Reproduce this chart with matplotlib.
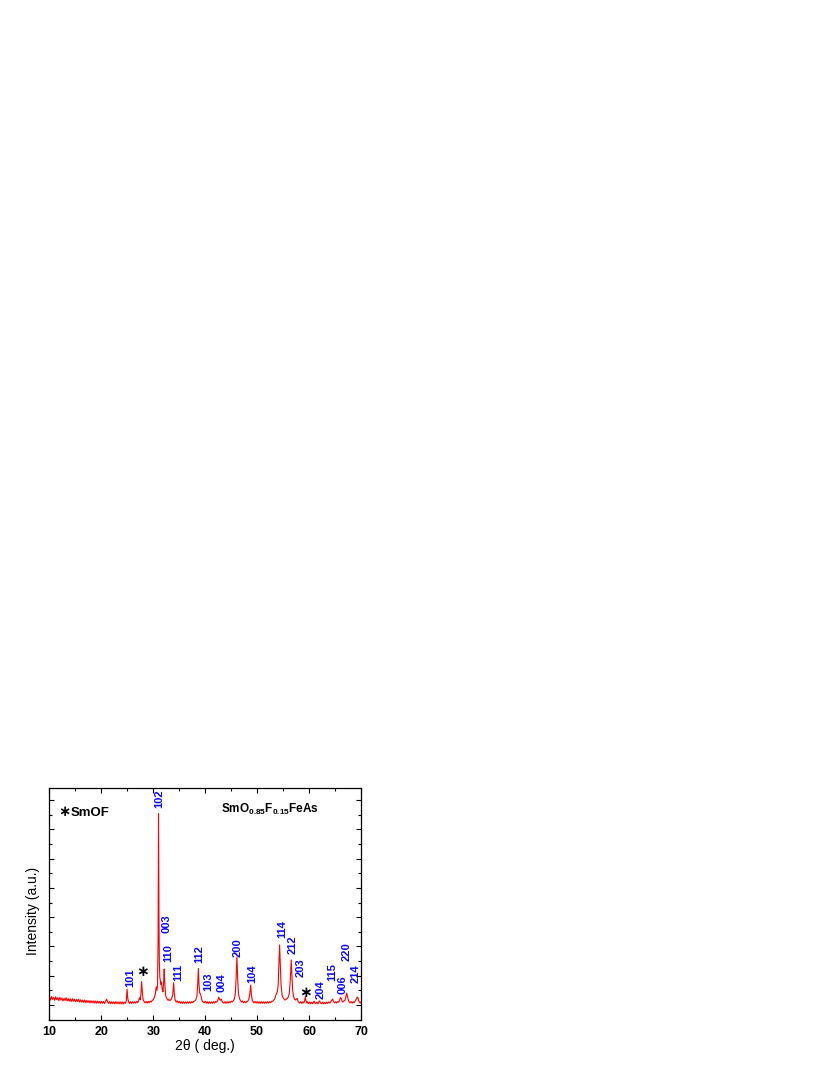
import matplotlib
matplotlib.use("Agg")
import matplotlib.pyplot as plt
from matplotlib.ticker import MultipleLocator, NullFormatter

plt.rcParams['font.family'] = ['Liberation Sans', 'DejaVu Sans']
plt.rcParams['mathtext.fontset'] = 'custom'
plt.rcParams['mathtext.rm'] = 'Liberation Sans'
plt.rcParams['mathtext.bf'] = 'Liberation Sans:bold'

# ---- data (2theta in degrees, intensity in arbitrary units) ----
two_theta = [
    10.0, 10.2, 10.4, 10.6, 10.8, 11.0, 11.2, 11.4, 11.6, 11.8,
    12.0, 12.2, 12.4, 12.6, 12.8, 13.0, 13.2, 13.4, 13.6, 13.8,
    14.0, 14.2, 14.4, 14.6, 14.8, 15.0, 15.2, 15.4, 15.6, 15.8,
    16.0, 16.2, 16.4, 16.6, 16.8, 17.0, 17.2, 17.4, 17.6, 17.8,
    18.0, 18.2, 18.4, 18.6, 18.8, 19.0, 19.2, 19.4, 19.6, 19.8,
    20.0, 20.2, 20.4, 20.6, 20.8, 21.0, 21.2, 21.4, 21.6, 21.8,
    22.0, 22.2, 22.4, 22.6, 22.8, 23.0, 23.2, 23.4, 23.6, 23.8,
    24.0, 24.2, 24.4, 24.6, 24.8, 24.95, 25.1, 25.25, 25.4, 25.6,
    25.8, 26.0, 26.2, 26.4, 26.6, 26.8, 27.0, 27.2, 27.35, 27.5,
    27.62, 27.75, 27.9, 28.05, 28.2, 28.4, 28.6, 28.8, 29.0, 29.2,
    29.4, 29.6, 29.8, 30.0, 30.2, 30.4, 30.55, 30.7, 30.82, 30.92,
    31.0, 31.08, 31.16, 31.26, 31.38, 31.48, 31.58, 31.7, 31.85, 31.97,
    32.1, 32.2, 32.35, 32.5, 32.7, 32.85, 33.0, 33.2, 33.5, 33.75,
    33.92, 34.05, 34.2, 34.4, 34.6, 34.8, 35.0, 35.2, 35.4, 35.6,
    35.8, 36.0, 36.2, 36.4, 36.6, 36.8, 37.0, 37.2, 37.4, 37.6,
    37.8, 38.0, 38.2, 38.4, 38.55, 38.68, 38.8, 38.95, 39.1, 39.25,
    39.4, 39.6, 39.8, 40.0, 40.2, 40.4, 40.6, 40.8, 41.0, 41.2,
    41.4, 41.6, 41.8, 42.0, 42.2, 42.4, 42.6, 42.75, 42.9, 43.1,
    43.25, 43.4, 43.6, 43.8, 44.0, 44.2, 44.4, 44.6, 44.8, 45.0,
    45.2, 45.4, 45.6, 45.8, 45.95, 46.1, 46.25, 46.4, 46.6, 46.8,
    47.0, 47.2, 47.4, 47.6, 47.8, 48.0, 48.2, 48.4, 48.6, 48.75,
    48.9, 49.05, 49.2, 49.4, 49.6, 49.8, 50.0, 50.2, 50.4, 50.6,
    50.8, 51.0, 51.2, 51.4, 51.6, 51.8, 52.0, 52.2, 52.4, 52.6,
    52.8, 53.0, 53.2, 53.4, 53.6, 53.75, 53.9, 54.05, 54.2, 54.33,
    54.45, 54.6, 54.8, 55.0, 55.2, 55.4, 55.6, 55.8, 56.0, 56.2,
    56.4, 56.57, 56.7, 56.85, 57.0, 57.2, 57.4, 57.55, 57.72, 57.85,
    58.0, 58.2, 58.4, 58.6, 58.8, 59.0, 59.15, 59.27, 59.4, 59.55,
    59.7, 59.9, 60.1, 60.3, 60.5, 60.7, 60.9, 61.0, 61.1, 61.3,
    61.5, 61.7, 61.9, 62.05, 62.2, 62.4, 62.6, 62.8, 63.0, 63.2,
    63.4, 63.6, 63.8, 64.0, 64.2, 64.4, 64.55, 64.7, 64.9, 65.1,
    65.3, 65.5, 65.7, 65.9, 66.05, 66.2, 66.35, 66.5, 66.7, 66.9,
    67.05, 67.25, 67.4, 67.55, 67.7, 67.9, 68.1, 68.3, 68.5, 68.7,
    68.9, 69.1, 69.25, 69.4, 69.55, 69.7, 69.85, 70.0,
]
intensity = [
    270, 170, 290, 190, 260, 160, 280, 180, 250, 150,
    260, 170, 240, 140, 230, 150, 250, 140, 220, 130,
    210, 120, 220, 130, 200, 110, 190, 120, 200, 100,
    180, 100, 170, 90, 170, 80, 160, 90, 150, 70,
    150, 75, 140, 65, 140, 60, 135, 65, 130, 55,
    125, 60, 120, 50, 130, 200, 110, 50, 120, 45,
    115, 50, 110, 40, 115, 45, 105, 35, 110, 40,
    105, 35, 100, 55, 140, 540, 200, 110, 55, 115,
    55, 115, 60, 110, 65, 125, 80, 160, 250, 180,
    380, 800, 400, 180, 130, 75, 125, 65, 125, 75,
    135, 100, 160, 180, 260, 380, 620, 500, 700, 2200,
    6530, 3300, 1500, 950, 800, 700, 780, 560, 450, 700,
    1230, 800, 350, 250, 200, 160, 190, 150, 210, 350,
    760, 400, 180, 100, 145, 75, 125, 60, 115, 55,
    110, 55, 110, 55, 110, 60, 115, 65, 115, 80,
    130, 140, 180, 300, 700, 1250, 700, 400, 380, 250,
    150, 100, 75, 125, 65, 115, 55, 110, 55, 110,
    60, 115, 65, 120, 95, 150, 270, 200, 160, 200,
    130, 90, 65, 115, 60, 115, 65, 115, 80, 130,
    100, 145, 200, 400, 900, 1640, 900, 400, 220, 150,
    100, 140, 75, 125, 75, 120, 130, 200, 400, 680,
    350, 180, 110, 75, 125, 65, 115, 60, 110, 55,
    115, 60, 110, 55, 110, 60, 115, 65, 115, 80,
    130, 130, 170, 220, 330, 400, 450, 700, 1400, 2050,
    1400, 700, 350, 250, 200, 170, 200, 220, 280, 400,
    900, 1540, 1000, 500, 300, 200, 170, 200, 230, 140,
    100, 65, 115, 55, 110, 70, 150, 285, 150, 70,
    110, 45, 105, 45, 100, 40, 110, 130, 70, 45,
    100, 40, 115, 140, 70, 45, 100, 40, 95, 45,
    100, 50, 105, 70, 115, 170, 200, 130, 70, 110,
    70, 120, 95, 170, 260, 220, 140, 100, 140, 160,
    250, 410, 300, 180, 110, 75, 120, 65, 110, 80,
    140, 200, 270, 260, 150, 100, 65, 110,
]

# peak labels: (text, 2theta position, intensity at the label's lower end)
hkl_labels = ['101', '102', '003', '110', '111', '112', '103', '004', '200', '104',
              '114', '212', '203', '204', '115', '006', '220', '214']
hkl_x = [25.48, 31.12, 32.60, 32.92, 34.77, 38.94, 40.54, 43.12, 46.19, 49.00,
         54.85, 56.88, 58.31, 62.15, 64.46, 66.38, 67.27, 68.94]
hkl_y = [615, 6726, 2458, 1468, 819, 1434, 478, 444, 1639, 751,
         2287, 1741, 956, 205, 819, 376, 1502, 751]

impurity_x = [27.92, 59.33]
impurity_y = [1144, 427]

fig = plt.figure(figsize=(8.30, 10.75), dpi=100)
ax = fig.add_axes([0.0596, 0.0512, 0.3753, 0.2158])

ax.plot(two_theta, intensity, color='#ff0000', lw=0.8)

ax.set_xlim(10, 70)
ax.set_ylim(-510, 7410)

ax.xaxis.set_major_locator(MultipleLocator(10))
ax.xaxis.set_minor_locator(MultipleLocator(5))
ax.yaxis.set_major_locator(MultipleLocator(1000))
ax.yaxis.set_minor_locator(MultipleLocator(500))
ax.yaxis.set_major_formatter(NullFormatter())

ax.tick_params(which='both', direction='in', top=True, right=True, width=0.8)
ax.tick_params(which='major', length=3.8)
ax.tick_params(which='minor', length=2.2)
ax.tick_params(axis='x', labelsize=9, pad=4)
for lab in ax.get_xticklabels():
    lab.set_fontweight('bold')
for sp in ax.spines.values():
    sp.set_linewidth(0.9)

ax.set_xlabel('2θ ( deg.)', fontsize=10, labelpad=1)
ax.set_ylabel('Intensity (a.u.)', fontsize=10)
ax.yaxis.set_label_coords(-0.03, 0.47)

for t, x, y in zip(hkl_labels, hkl_x, hkl_y):
    ax.text(x, y, t, rotation=90, ha='center', va='bottom', color='#0a0aff',
            fontsize=8, fontweight='bold')

for x, y in zip(impurity_x, impurity_y):
    ax.text(x, y, '\u2217', ha='center', va='center', color='black',
            fontsize=11, fontweight='bold', family=['DejaVu Sans'])

ax.text(0.049, 0.897, '\u2217', transform=ax.transAxes, ha='center', va='center',
        fontsize=10.5, fontweight='bold', family=['DejaVu Sans'])
ax.text(0.068, 0.894, 'SmOF', transform=ax.transAxes, ha='left', va='center',
        fontsize=9.5, fontweight='bold')
ax.text(0.708, 0.909, r'$\mathbf{SmO_{0.85}F_{0.15}FeAs}$', transform=ax.transAxes,
        ha='center', va='center', fontsize=8.5)

fig.savefig('out.png', dpi=100)
